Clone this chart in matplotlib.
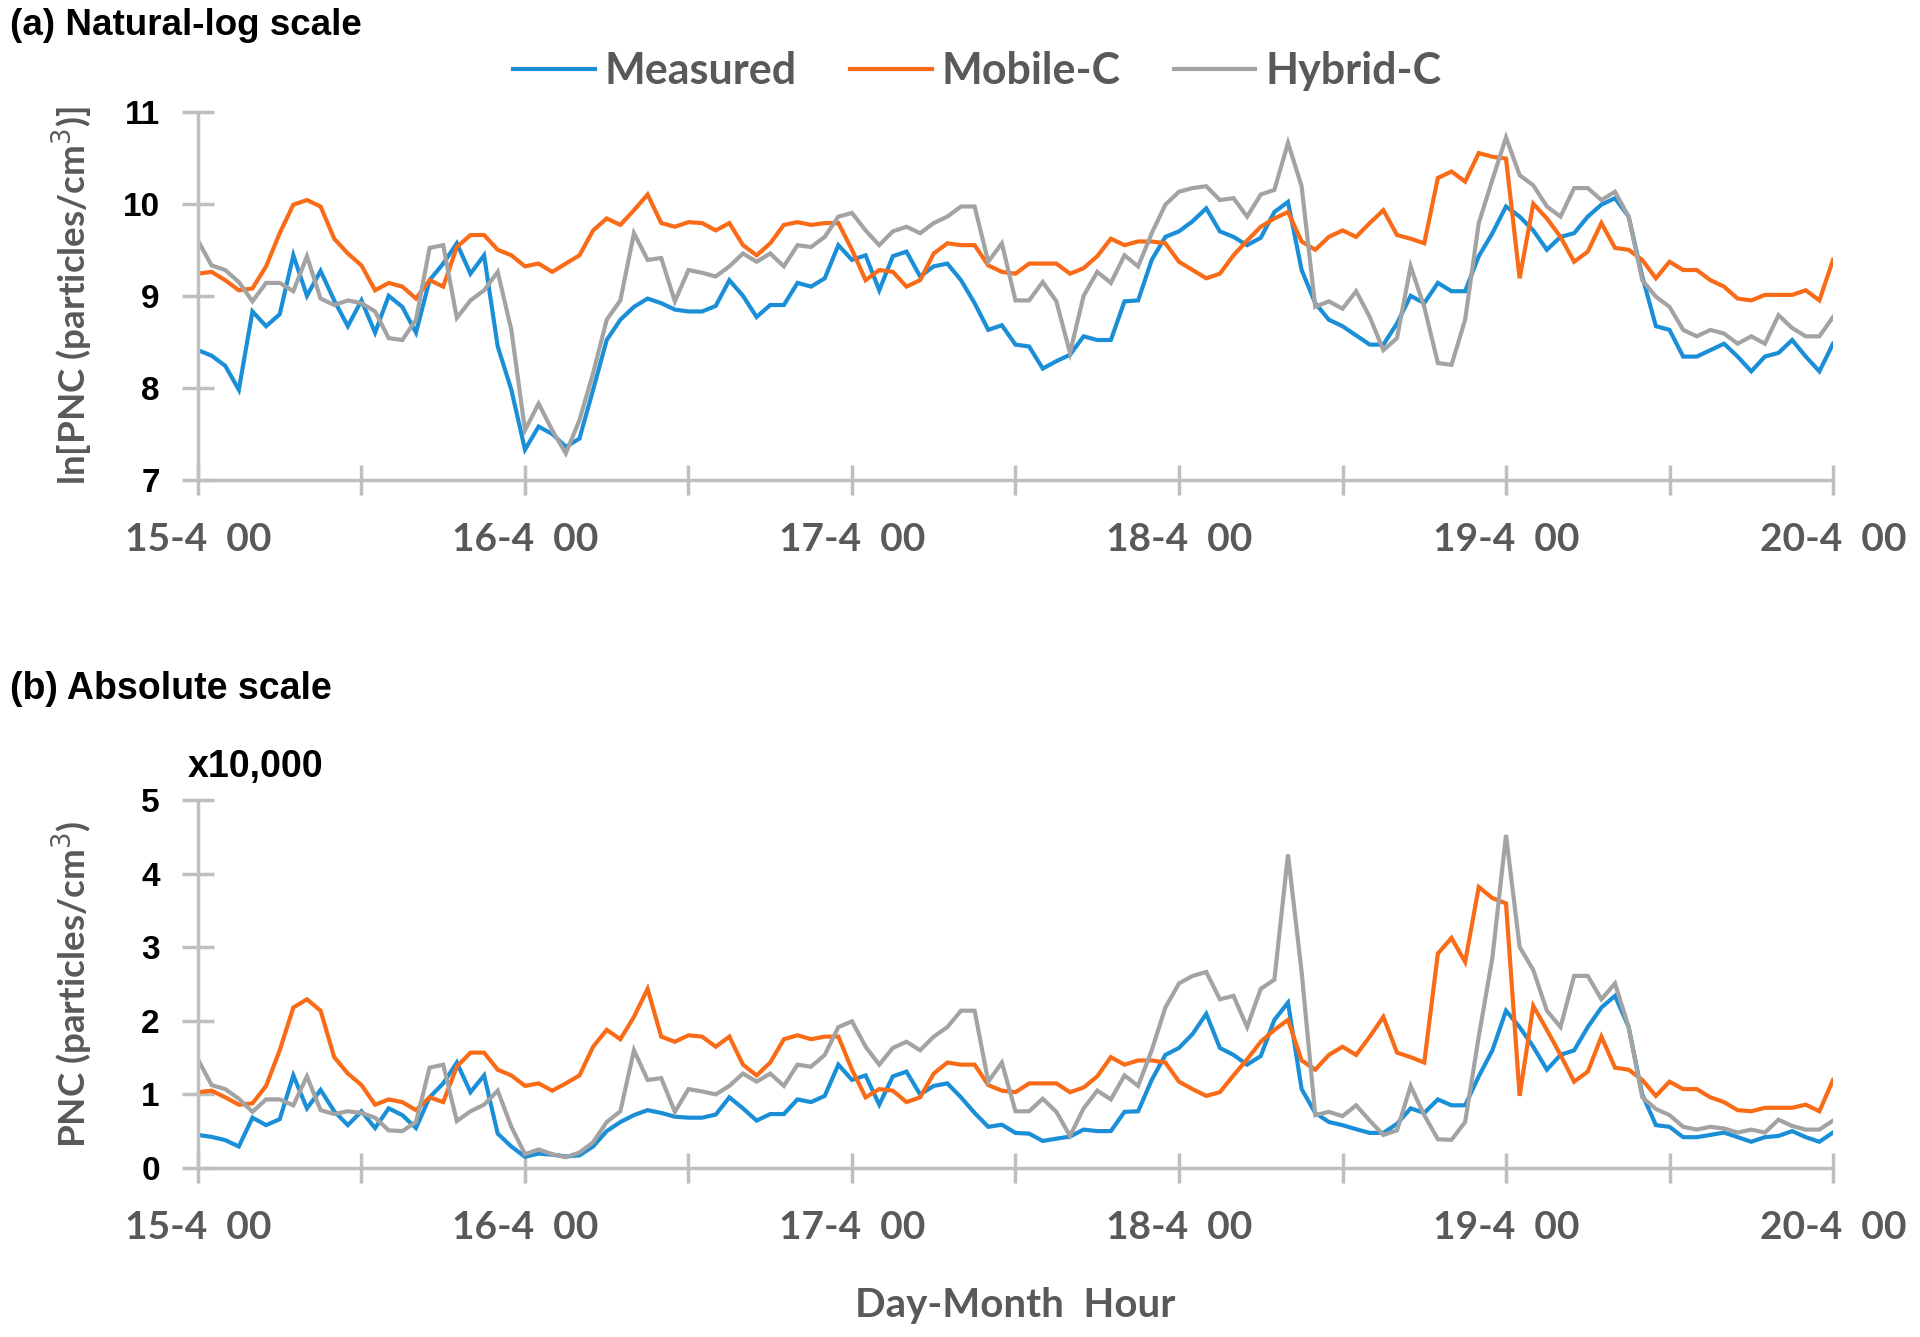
import numpy as np
import matplotlib
matplotlib.use('Agg')
import matplotlib.pyplot as plt

# ---------------- data (hourly, 15-4 00 .. 20-4 00) ----------------
hours = np.arange(121)

measured_ln = [8.41, 8.35, 8.24, 7.98, 8.83, 8.67, 8.80, 9.44, 9.00, 9.27,
               8.95, 8.67, 8.95, 8.60, 9.00, 8.88, 8.60, 9.17, 9.35, 9.57,
               9.24, 9.44, 8.45, 7.98, 7.33, 7.58, 7.50, 7.36, 7.45, 7.98,
               8.52, 8.74, 8.88, 8.97, 8.92, 8.85, 8.83, 8.83, 8.89, 9.17,
               9.00, 8.77, 8.90, 8.90, 9.14, 9.10, 9.19, 9.55, 9.39, 9.44,
               9.06, 9.43, 9.48, 9.21, 9.32, 9.35, 9.17, 8.92, 8.63, 8.68,
               8.47, 8.45, 8.21, 8.29, 8.36, 8.56, 8.52, 8.52, 8.94, 8.95,
               9.39, 9.64, 9.70, 9.81, 9.95, 9.70, 9.64, 9.55, 9.63, 9.91,
               10.02, 9.28, 8.92, 8.74, 8.67, 8.57, 8.47, 8.47, 8.70, 9.00,
               8.92, 9.14, 9.05, 9.05, 9.43, 9.68, 9.97, 9.86, 9.71, 9.50,
               9.64, 9.68, 9.86, 9.99, 10.06, 9.86, 9.21, 8.67, 8.63, 8.34,
               8.34, 8.41, 8.48, 8.34, 8.18, 8.34, 8.38, 8.52, 8.34, 8.18,
               8.48]

mobile_ln = [9.24, 9.26, 9.17, 9.06, 9.08, 9.32, 9.68, 9.99, 10.04, 9.97,
             9.62, 9.46, 9.33, 9.06, 9.14, 9.10, 8.97, 9.17, 9.10, 9.53,
             9.66, 9.66, 9.50, 9.44, 9.32, 9.35, 9.26, 9.35, 9.44, 9.71,
             9.84, 9.77, 9.93, 10.10, 9.79, 9.75, 9.80, 9.79, 9.71, 9.79,
             9.55, 9.44, 9.57, 9.77, 9.80, 9.77, 9.79, 9.79, 9.50, 9.17,
             9.28, 9.26, 9.10, 9.17, 9.46, 9.57, 9.55, 9.55, 9.33, 9.26,
             9.24, 9.35, 9.35, 9.35, 9.24, 9.30, 9.43, 9.62, 9.55, 9.59,
             9.59, 9.57, 9.37, 9.28, 9.19, 9.24, 9.44, 9.60, 9.75, 9.84,
             9.91, 9.59, 9.50, 9.64, 9.71, 9.64, 9.79, 9.93, 9.66, 9.62,
             9.57, 10.28, 10.35, 10.24, 10.55, 10.51, 10.49, 9.19, 10.00, 9.84,
             9.64, 9.37, 9.48, 9.79, 9.52, 9.50, 9.39, 9.19, 9.37, 9.28,
             9.28, 9.17, 9.10, 8.97, 8.95, 9.01, 9.01, 9.01, 9.06, 8.95,
             9.39]

hybrid_ln = [9.60, 9.33, 9.28, 9.15, 8.94, 9.14, 9.14, 9.05, 9.43, 8.97,
             8.90, 8.95, 8.92, 8.83, 8.54, 8.52, 8.74, 9.52, 9.55, 8.76,
             8.95, 9.06, 9.26, 8.63, 7.54, 7.83, 7.54, 7.29, 7.65, 8.16,
             8.74, 8.95, 9.68, 9.39, 9.41, 8.94, 9.28, 9.25, 9.21, 9.32,
             9.46, 9.37, 9.46, 9.32, 9.55, 9.53, 9.64, 9.86, 9.90, 9.71,
             9.55, 9.70, 9.75, 9.68, 9.79, 9.86, 9.97, 9.97, 9.37, 9.57,
             8.95, 8.95, 9.15, 8.94, 8.38, 9.00, 9.26, 9.14, 9.44, 9.32,
             9.68, 9.99, 10.13, 10.17, 10.19, 10.04, 10.06, 9.86, 10.10, 10.15,
             10.66, 10.19, 8.88, 8.94, 8.86, 9.05, 8.77, 8.41, 8.54, 9.32,
             8.88, 8.27, 8.25, 8.74, 9.79, 10.26, 10.72, 10.31, 10.20, 9.97,
             9.86, 10.17, 10.17, 10.04, 10.13, 9.86, 9.17, 8.99, 8.88, 8.63,
             8.56, 8.63, 8.59, 8.48, 8.56, 8.48, 8.79, 8.65, 8.56, 8.56,
             8.77]

series_names = ['Measured', 'Mobile-C', 'Hybrid-C']
day_labels = ['15-4  00', '16-4  00', '17-4  00', '18-4  00', '19-4  00', '20-4  00']

# absolute scale (x10,000 particles/cm3) is the same data un-logged
measured_abs = np.exp(measured_ln) / 1e4
mobile_abs = np.exp(mobile_ln) / 1e4
hybrid_abs = np.exp(hybrid_ln) / 1e4

colors = ['#1A8FD8', '#FA6B17', '#A3A3A3']
axis_grey = '#BFBFBF'
text_grey = '#595959'

fig = plt.figure(figsize=(19.2, 13.37), dpi=100)
ax1 = fig.add_axes([0.1031, 0.641, 0.8516, 0.2755])
ax2 = fig.add_axes([0.1031, 0.1264, 0.8516, 0.2752])

def style(ax, ylim, yticks):
    for s in ['top', 'right']:
        ax.spines[s].set_visible(False)
    for s in ['left', 'bottom']:
        ax.spines[s].set_color(axis_grey)
        ax.spines[s].set_linewidth(2.5)
    ax.set_xlim(0, 120)
    ax.set_ylim(*ylim)
    ax.set_yticks(yticks)
    ax.set_yticklabels([str(t) for t in yticks], fontsize=24, fontweight='bold',
                       family='Liberation Sans', color='black')
    xt = list(range(0, 121, 12))
    ax.set_xticks(xt)
    labs = []
    for i, t in enumerate(xt):
        labs.append(day_labels[i // 2] if i % 2 == 0 else '')
    ax.set_xticklabels(labs, fontsize=28, fontweight='bold', family='Lato', color=text_grey)
    ax.tick_params(axis='x', direction='inout', length=21, width=2.5, color=axis_grey, pad=20)
    ax.tick_params(axis='y', direction='inout', length=23, width=2.5, color=axis_grey, pad=16)

lines = []
for vals, c, n in zip([measured_ln, mobile_ln, hybrid_ln], colors, series_names):
    ln, = ax1.plot(hours, vals, color=c, lw=3, label=n, solid_joinstyle='miter')
    lines.append(ln)
for vals, c in zip([measured_abs, mobile_abs, hybrid_abs], colors):
    ax2.plot(hours, vals, color=c, lw=3, solid_joinstyle='miter')

style(ax1, (7, 11), [7, 8, 9, 10, 11])
style(ax2, (0, 5), [0, 1, 2, 3, 4, 5])

ax1.set_ylabel('ln[PNC (particles/cm$^3$)]', fontsize=26.5, fontweight='bold',
               family='Lato', color=text_grey)
ax2.set_ylabel('PNC (particles/cm$^3$)', fontsize=26.5, fontweight='bold',
               family='Lato', color=text_grey)
ax1.yaxis.set_label_coords(-0.063, 0.5)
ax2.yaxis.set_label_coords(-0.063, 0.5)
ax2.set_xlabel('Day-Month  Hour', fontsize=29, fontweight='bold', family='Lato',
               color=text_grey, labelpad=30)

fig.text(0.005, 0.981, '(a) Natural-log scale', fontsize=26.5, fontweight='bold',
         family='Liberation Sans', color='black', va='center')
fig.text(0.005, 0.4847, '(b) Absolute scale', fontsize=27, fontweight='bold',
         family='Liberation Sans', color='black', va='center')
fig.text(0.098, 0.4263, 'x10,000', fontsize=27, fontweight='bold',
         family='Liberation Sans', color='black', va='center')

fig.legend(handles=lines, loc='center', bbox_to_anchor=(0.509, 0.947), ncol=3,
           frameon=False, prop={'family': 'Lato', 'weight': 'bold', 'size': 31},
           labelcolor=text_grey, handlelength=1.9, handletextpad=0.23, columnspacing=1.23)

fig.savefig('out.png', dpi=100)
